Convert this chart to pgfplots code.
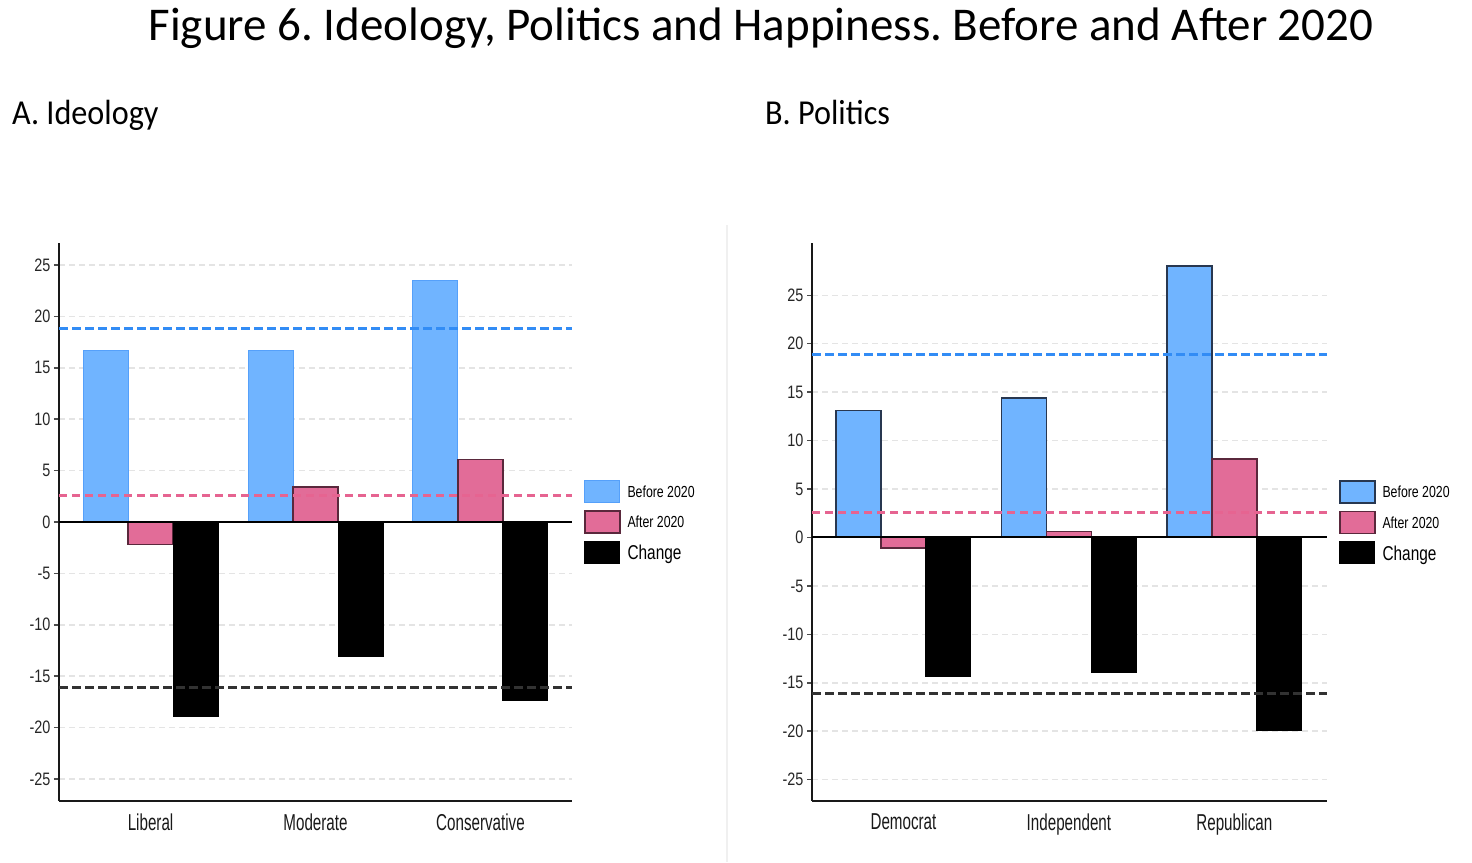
\documentclass[border=0pt]{standalone}
\usepackage{fontspec}
\setmainfont{Carlito}
\newfontfamily\tickfont[FakeStretch=0.8]{Liberation Sans}
\newfontfamily\catfont[FakeStretch=0.66]{Liberation Sans}
\newfontfamily\legfont[FakeStretch=0.77]{Liberation Sans}
\newfontfamily\subfont[FakeStretch=0.92]{Carlito}
\usepackage{pgfplots}
\pgfplotsset{compat=1.18}
\definecolor{barblue}{RGB}{112,180,255}
\definecolor{edgeblue}{RGB}{85,160,250}
\definecolor{edgedark}{RGB}{40,55,80}
\definecolor{barpink}{RGB}{226,108,152}
\definecolor{edgepink}{RGB}{90,40,60}
\definecolor{lineblue}{RGB}{50,140,245}
\definecolor{linepink}{RGB}{230,100,145}
\definecolor{lineblack}{RGB}{50,50,50}
\definecolor{gridgray}{RGB}{228,228,228}
\pgfplotsset{
  myleg/.style={legend image code/.code={\draw[##1] (0pt,-10pt) rectangle (35pt,12pt);}},
  panel/.style={
    scale only axis, anchor=south west,
    height=558pt,
    axis x line*=bottom, axis y line*=left,
    axis line style={-, line width=2pt, black!90},
    ytick={-25,-20,...,25},
    ymajorgrids,
    grid style={gridgray, line width=1.5pt, dash pattern=on 6pt off 4pt},
    tick align=outside, major tick length=5pt,
    y tick style={black!70, line width=1.5pt},
    xtick={1,2,3},
    x tick style={draw=none},
    /pgf/number format/assume math mode=true,
    yticklabel style={font=\tickfont\fontsize{18}{18}\selectfont, text=black!85},
    xticklabel style={font=\catfont\fontsize{23}{23}\selectfont, text=black!90, yshift=-4pt},
    legend style={at={(1,0.575)}, anchor=north west, xshift=12pt, draw=none, fill=none,
      inner sep=0pt, outer sep=0pt, row sep=7pt, nodes={inner sep=0pt}},
    legend cell align=left,
    /tikz/every odd column/.append style={column sep=7pt},
  }
}
\begin{document}
\frenchspacing
\begin{tikzpicture}[x=1pt,y=1pt]
\useasboundingbox (0,0) rectangle (1472,862);
\draw[black!6, line width=1.5pt] (727,0) -- (727,637);
\node[font=\fontsize{47}{47}\selectfont] at (761,834) {Figure 6. Ideology, Politics and Happiness. Before and After 2020};
\node[anchor=base west, inner sep=0pt, font=\subfont\fontsize{35}{35}\selectfont] at (12,737) {A. Ideology};
\node[anchor=base west, inner sep=0pt, font=\subfont\fontsize{35}{35}\selectfont] at (765,737) {B. Politics};

\begin{axis}[panel, at={(59pt,61pt)}, width=513pt,
  xmin=0.445, xmax=3.555, ymin=-27.15, ymax=27.15,
  xticklabels={Liberal,Moderate,Conservative}]
\addplot[ybar, bar width=45pt, bar shift=-45pt, fill=barblue, draw=edgeblue, line width=1pt, myleg]
  coordinates {(1,16.7) (2,16.7) (3,23.5)};
\addlegendentry{\legfont\fontsize{16}{16}\selectfont Before 2020}
\addplot[ybar, bar width=45pt, bar shift=0pt, fill=barpink, draw=edgepink, line width=1.5pt, myleg]
  coordinates {(1,-2.2) (2,3.4) (3,6.1)};
\addlegendentry{\legfont\fontsize{16}{16}\selectfont After 2020}
\addplot[ybar, bar width=45pt, bar shift=45pt, fill=black, draw=black, line width=1pt, myleg]
  coordinates {(1,-18.9) (2,-13.1) (3,-17.4)};
\addlegendentry{\legfont\fontsize{20}{20}\selectfont Change}
\addplot[forget plot, black, line width=2pt] coordinates {(0.445,0) (3.555,0)};
\addplot[forget plot, lineblue, line width=3pt, dash pattern=on 9pt off 4pt] coordinates {(0.445,18.8) (3.555,18.8)};
\addplot[forget plot, linepink, line width=2.5pt, dash pattern=on 8pt off 5pt] coordinates {(0.445,2.6) (3.555,2.6)};
\addplot[forget plot, lineblack, line width=3.5pt, dash pattern=on 9pt off 4pt] coordinates {(0.445,-16.1) (3.555,-16.1)};
\end{axis}

\begin{axis}[panel, at={(812pt,61pt)}, width=515pt,
  xmin=0.447, xmax=3.56, ymin=-27.2, ymax=30.4,
  xticklabels={Democrat,Independent,Republican}]
\addplot[ybar, bar width=45pt, bar shift=-45pt, fill=barblue, draw=edgedark, line width=1.5pt, myleg]
  coordinates {(1,13.1) (2,14.4) (3,28.0)};
\addlegendentry{\legfont\fontsize{16}{16}\selectfont Before 2020}
\addplot[ybar, bar width=45pt, bar shift=0pt, fill=barpink, draw=edgepink, line width=1.5pt, myleg]
  coordinates {(1,-1.1) (2,0.6) (3,8.1)};
\addlegendentry{\legfont\fontsize{16}{16}\selectfont After 2020}
\addplot[ybar, bar width=45pt, bar shift=45pt, fill=black, draw=black, line width=1pt, myleg]
  coordinates {(1,-14.4) (2,-13.9) (3,-19.9)};
\addlegendentry{\legfont\fontsize{20}{20}\selectfont Change}
\addplot[forget plot, black, line width=2pt] coordinates {(0.447,0) (3.56,0)};
\addplot[forget plot, lineblue, line width=3pt, dash pattern=on 9pt off 4pt] coordinates {(0.447,18.9) (3.56,18.9)};
\addplot[forget plot, linepink, line width=2.5pt, dash pattern=on 8pt off 5pt] coordinates {(0.447,2.6) (3.56,2.6)};
\addplot[forget plot, lineblack, line width=3.5pt, dash pattern=on 9pt off 4pt] coordinates {(0.447,-16.1) (3.56,-16.1)};
\end{axis}
\end{tikzpicture}
\end{document}
